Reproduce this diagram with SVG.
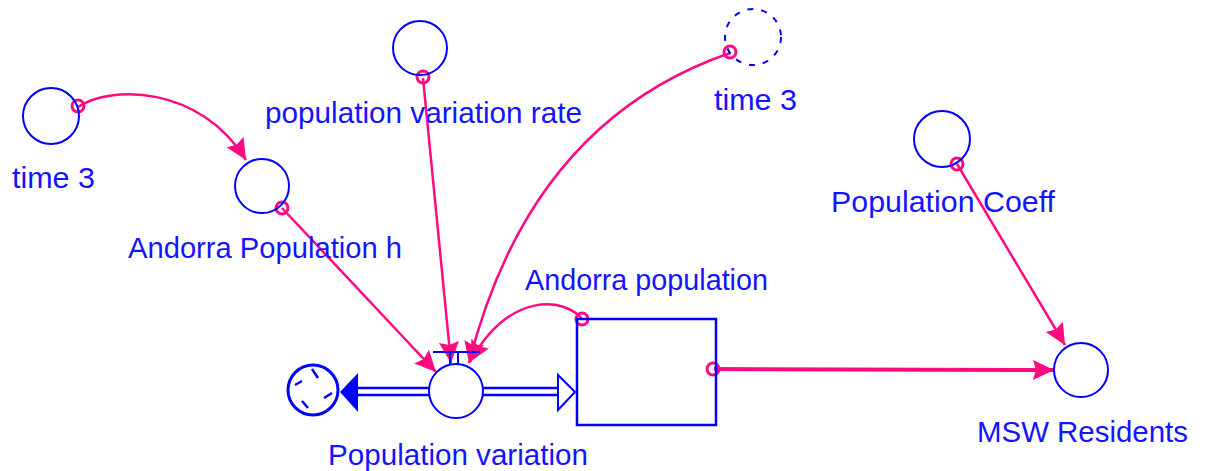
<svg xmlns="http://www.w3.org/2000/svg" width="1207" height="471" viewBox="0 0 1207 471">
<style>
.aux{fill:none;stroke:#0000ff;stroke-width:2}
.lbl{font-family:"Liberation Sans",Arial,sans-serif;font-size:29px;fill:#1414ff}
.con{fill:none;stroke:#ff0a80;stroke-width:2.5}
.org{fill:none;stroke:#ff0a80;stroke-width:3}
</style>
<defs>
<marker id="ah" markerUnits="userSpaceOnUse" markerWidth="22" markerHeight="22" refX="21" refY="10" orient="auto">
<path d="M0,0 L21,10 L0,20 L3,10 z" fill="#ff0a80"/>
</marker>
</defs>
<rect width="1207" height="471" fill="#ffffff"/>

<g id="connectors">
<path class="con" d="M78 107 C110 85,200 85,246 160" marker-end="url(#ah)"/>
<path class="con" d="M282 208 L436 372" marker-end="url(#ah)"/>
<path class="con" d="M423 78 L451 363" marker-end="url(#ah)"/>
<path class="con" d="M730 53 Q530 122 469 363" marker-end="url(#ah)"/>
<path class="con" d="M582 319 C565 298,510 290,470 362" marker-end="url(#ah)"/>
<path class="con" style="stroke-width:4" d="M714 369 L1054 370" marker-end="url(#ah)"/>
<path class="con" d="M957 164 L1065 345" marker-end="url(#ah)"/>
<circle class="org" cx="78" cy="106" r="6"/>
<circle class="org" cx="282" cy="208" r="6"/>
<circle class="org" cx="423" cy="77" r="6"/>
<circle class="org" cx="730" cy="52" r="6"/>
<circle class="org" cx="582" cy="319" r="6"/>
<circle class="org" cx="713" cy="369" r="6"/>
<circle class="org" cx="957" cy="164" r="6"/>
</g>

<g id="time3_left">
<circle class="aux" cx="51" cy="116" r="28"/>
<text class="lbl" x="12" y="188" textLength="83" lengthAdjust="spacingAndGlyphs">time 3</text>
</g>

<g id="andorra_population_h">
<circle class="aux" cx="262" cy="186" r="27"/>
<text class="lbl" x="128" y="258" textLength="274" lengthAdjust="spacingAndGlyphs">Andorra Population h</text>
</g>

<g id="population_variation_rate">
<circle class="aux" cx="420" cy="48" r="27"/>
<text class="lbl" x="265" y="123" textLength="317" lengthAdjust="spacingAndGlyphs">population variation rate</text>
</g>

<g id="time3_right">
<circle class="aux" cx="753" cy="37" r="28" stroke-dasharray="6 8"/>
<text class="lbl" x="714" y="110" textLength="83" lengthAdjust="spacingAndGlyphs">time 3</text>
</g>

<g id="population_coeff">
<circle class="aux" cx="942" cy="139" r="28"/>
<text class="lbl" x="831" y="212" textLength="224" lengthAdjust="spacingAndGlyphs">Population Coeff</text>
</g>

<g id="msw_residents">
<circle class="aux" cx="1081" cy="370" r="27"/>
<text class="lbl" x="977" y="442" textLength="211" lengthAdjust="spacingAndGlyphs">MSW Residents</text>
</g>

<g id="andorra_population">
<rect x="577" y="319" width="139" height="106" fill="none" stroke="#0000ff" stroke-width="2.5"/>
<text class="lbl" x="525" y="290" textLength="243" lengthAdjust="spacingAndGlyphs">Andorra population</text>
</g>

<g id="cloud">
<circle cx="313" cy="390" r="25" fill="none" stroke="#0000ff" stroke-width="3"/>
<path d="M312 369 L318 378 M295 385 L302 381 M324 398 L332 393 M302 401 L308 408" fill="none" stroke="#0000ff" stroke-width="2.5"/>
</g>

<g id="population_variation">
<path d="M358 388 H429 M358 395 H429 M483 388 H558 M483 395 H558" fill="none" stroke="#0000ff" stroke-width="2.5"/>
<path d="M340 392 L358 373 L358 412 z" fill="#0000ff"/>
<path d="M575 392 L558 375 L558 410 z" fill="#ffffff" stroke="#0000ff" stroke-width="2"/>
<circle cx="456" cy="391" r="27" fill="#ffffff" stroke="#0000ff" stroke-width="2"/>
<path d="M433 352 H480 M450 352 V365 M458 352 V365" fill="none" stroke="#0000ff" stroke-width="2"/>
<text class="lbl" x="328" y="465" textLength="260" lengthAdjust="spacingAndGlyphs">Population variation</text>
</g>
</svg>
